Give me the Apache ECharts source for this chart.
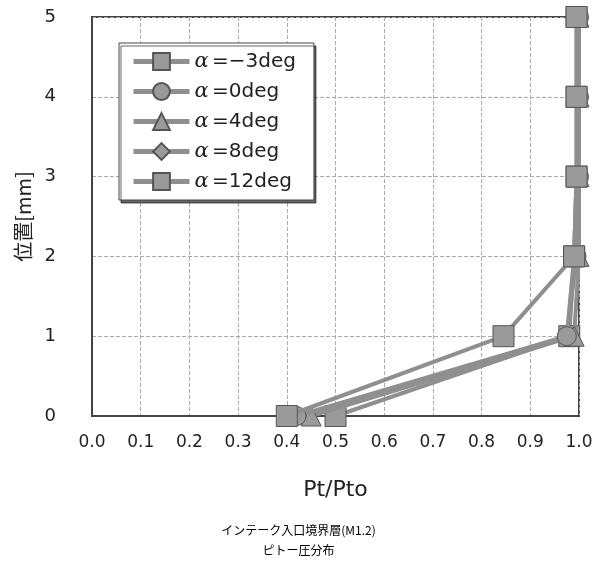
<!DOCTYPE html>
<html>
<head>
<meta charset="utf-8">
<script src="https://cdn.jsdelivr.net/npm/echarts@6/dist/echarts.min.js"></script>
<style>html,body{margin:0;padding:0;background:#fff}#c{width:597px;height:563px}</style>
</head>
<body>
<div id="c"></div>
<script>
var positions = [0, 1, 2, 3, 4, 5];
var seriesNames = ['−3', '0', '4', '8', '12'];
var ptMinus3 = [0.40, 0.845, 0.99, 0.995, 0.995, 0.995];
var pt0 = [0.42, 0.975, 0.995, 1.0, 1.0, 1.0];
var pt4 = [0.45, 0.99, 1.0, 1.0, 1.0, 1.0];
var pt8 = [0.44, 0.975, 0.99, 0.995, 1.0, 1.0];
var pt12 = [0.50, 0.98, 0.99, 0.995, 0.995, 0.995];
var xTicks = ['0.0','0.1','0.2','0.3','0.4','0.5','0.6','0.7','0.8','0.9','1.0'];
var yTicks = ['0','1','2','3','4','5'];

var allVals = [ptMinus3, pt0, pt4, pt8, pt12];
var symbols = ['rect', 'circle', 'triangle', 'diamond', 'rect'];
var sizes = [21, 19, 20, 18, 21];

var chart = echarts.init(document.getElementById('c'));
var series = allVals.map(function (vals, i) {
  return {
    name: 'α=' + seriesNames[i] + 'deg',
    type: 'line',
    data: vals.map(function (v, j) { return [v, positions[j]]; }),
    symbol: symbols[i],
    symbolSize: sizes[i],
    lineStyle: { color: '#8f8f8f', width: 4 },
    itemStyle: { color: '#9a9a9a', borderColor: '#555', borderWidth: 1 },
    z: 10 - i
  };
});

chart.setOption({
  animation: false,
  backgroundColor: '#fff',
  title: {
    text: 'インテーク入口境界層(M1.2)\nピトー圧分布',
    left: 'center',
    top: 515,
    textStyle: { fontSize: 12, fontWeight: 'normal', color: '#000', lineHeight: 20, fontFamily: 'Noto Sans CJK JP' }
  },
  grid: { left: 92, right: 18, top: 17, bottom: 147, show: true, borderColor: '#444', borderWidth: 2, backgroundColor: '#fff' },
  legend: {
    orient: 'vertical',
    left: 119,
    top: 43,
    padding: [8, 18, 8, 12],
    itemGap: 9,
    itemWidth: 56,
    itemHeight: 21,
    backgroundColor: '#fff',
    borderColor: '#444',
    borderWidth: 1,
    shadowColor: 'rgba(0,0,0,0.6)',
    shadowOffsetX: 2,
    shadowOffsetY: 3,
    shadowBlur: 0,
    lineStyle: { width: 5, color: '#8f8f8f' },
    formatter: function (n) {
      return '{a|α} {b|' + n.slice(1) + '}';
    },
    textStyle: {
      rich: {
        a: { fontSize: 21, fontStyle: 'italic', color: '#222', fontFamily: 'DejaVu Serif' },
        b: { fontSize: 20, color: '#222', fontFamily: 'DejaVu Sans' }
      }
    },
    data: series.map(function (s) { return s.name; })
  },
  xAxis: {
    type: 'value',
    min: 0, max: 1, interval: 0.1,
    name: 'Pt/Pto',
    nameLocation: 'middle',
    nameGap: 63,
    nameTextStyle: { fontSize: 22, color: '#222', fontFamily: 'DejaVu Sans' },
    axisLine: { lineStyle: { color: '#444', width: 2 } },
    axisTick: { show: false },
    axisLabel: {
      fontSize: 17, color: '#222', margin: 18, fontFamily: 'DejaVu Sans',
      formatter: function (v) { return xTicks[Math.round(v * 10)]; }
    },
    splitLine: { show: true, lineStyle: { color: '#aaa', type: 'dashed', width: 1 } }
  },
  yAxis: {
    type: 'value',
    min: 0, max: 5, interval: 1,
    name: '位置[mm]',
    nameLocation: 'middle',
    nameGap: 58,
    nameTextStyle: { fontSize: 20, color: '#222', fontFamily: 'Noto Sans CJK JP' },
    axisLine: { lineStyle: { color: '#444', width: 2 } },
    axisTick: { show: false },
    axisLabel: {
      fontSize: 18, color: '#222', margin: 36, fontFamily: 'DejaVu Sans',
      formatter: function (v) { return yTicks[Math.round(v)]; }
    },
    splitLine: { show: true, lineStyle: { color: '#aaa', type: 'dashed', width: 1 } }
  },
  series: series
});
</script>
</body>
</html>
